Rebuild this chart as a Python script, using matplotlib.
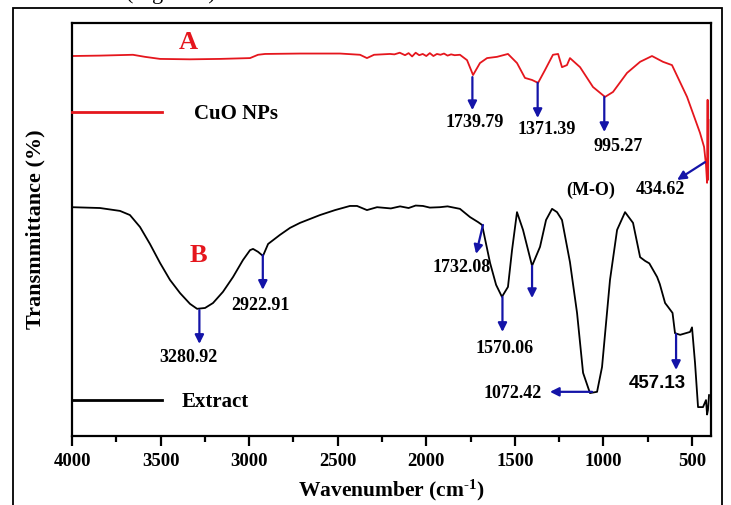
import matplotlib.pyplot as plt
from matplotlib.patches import Rectangle

plt.rcParams['mathtext.fontset'] = 'custom'
plt.rcParams['mathtext.rm'] = 'Liberation Serif:bold'
plt.rcParams['mathtext.it'] = 'Liberation Serif:bold:italic'

# FTIR spectrum of the CuO nanoparticles (curve A)
wn_cuo = [4000, 3842, 3656, 3588, 3503, 3334, 3164, 2995, 2950, 2910, 2713, 2487,
          2374, 2335, 2295, 2205, 2180, 2150, 2120, 2100, 2080, 2060, 2040, 2020,
          2000, 1980, 1960, 1940, 1920, 1900, 1880, 1860, 1840, 1810, 1770, 1736,
          1697, 1657, 1601, 1539, 1488, 1443, 1403, 1369, 1330, 1285, 1256, 1234,
          1206, 1189, 1132, 1059, 991, 946, 867, 793, 726, 664, 613, 528, 455, 432,
          421, 415, 412, 410, 407]
t_cuo = [92.0, 92.1, 92.3, 91.8, 91.3, 91.2, 91.3, 91.5, 92.3, 92.5, 92.6, 92.6,
         92.3, 91.5, 92.3, 92.5, 92.4, 92.8, 92.2, 92.7, 91.9, 92.8, 92.2, 92.5,
         92.0, 92.7, 92.0, 92.5, 92.3, 92.6, 92.1, 92.4, 92.2, 92.3, 91.0, 87.4,
         90.3, 91.5, 91.8, 92.5, 90.3, 86.7, 86.2, 85.5, 88.6, 92.3, 92.5, 89.3,
         89.8, 91.5, 89.3, 84.5, 82.1, 83.3, 87.9, 90.6, 92.0, 90.6, 89.8, 82.1,
         73.4, 70.0, 65.6, 61.3, 81.4, 62.0, 76.5]

# FTIR spectrum of the plant extract (curve B)
wn_ext = [4000, 3842, 3729, 3673, 3616, 3560, 3503, 3447, 3390, 3334, 3294, 3249,
          3204, 3148, 3091, 3035, 2995, 2978, 2950, 2922, 2893, 2826, 2769, 2713,
          2600, 2515, 2431, 2391, 2335, 2278, 2200, 2148, 2100, 2060, 2019, 1980,
          1923, 1880, 1810, 1753, 1708, 1685, 1640, 1606, 1573, 1539, 1516, 1488,
          1454, 1403, 1358, 1324, 1290, 1262, 1234, 1189, 1149, 1115, 1076, 1036,
          1008, 963, 923, 878, 833, 793, 765, 741, 697, 682, 652, 636, 610, 596,
          567, 511, 500, 483, 466, 438, 421, 415, 410, 404]
t_ext = [55.4, 55.2, 54.5, 53.5, 50.6, 46.5, 41.9, 37.8, 34.6, 32.0, 30.8, 31.0,
         32.2, 34.9, 38.5, 42.6, 45.0, 45.3, 44.6, 43.6, 46.5, 48.7, 50.4, 51.6,
         53.5, 54.7, 55.7, 55.7, 54.7, 55.4, 55.1, 55.6, 55.2, 55.8, 55.7, 55.3,
         55.4, 55.6, 55.0, 53.0, 51.8, 51.1, 41.9, 36.6, 33.7, 36.1, 45.0, 54.2,
         49.9, 41.2, 45.8, 52.3, 55.0, 54.2, 52.3, 42.1, 29.8, 15.3, 10.4, 10.7,
         16.7, 37.8, 49.9, 54.2, 51.6, 43.3, 42.4, 41.8, 38.5, 36.8, 32.2, 31.3,
         29.8, 24.9, 24.5, 25.2, 26.3, 17.7, 7.0, 7.0, 8.7, 5.2, 6.3, 9.9]

cuo_labels = ['1739.79', '1371.39', '995.27']
ext_labels = ['3280.92', '2922.91', '1732.08', '1570.06', '1072.42', '457.13']

serif = 'Liberation Serif'
red = '#e5161d'
blue = '#1414a8'

fig = plt.figure(figsize=(7.31, 5.05), dpi=100)
ax = fig.add_axes([0.0985, 0.1366, 0.8741, 0.8179])

line_cuo, = ax.plot(wn_cuo, t_cuo, color=red, lw=1.3, label='CuO NPs')
line_ext, = ax.plot(wn_ext, t_ext, color='black', lw=1.3, label='Extract')

ax.set_xlim(4000, 393)
ax.set_ylim(0, 100)
ax.set_xticks(range(4000, 499, -500))
ax.set_xticks(range(3750, 700, -500), minor=True)
ax.set_yticks([])
ax.tick_params(axis='x', which='major', direction='out', length=7, width=1.6, pad=5)
ax.tick_params(axis='x', which='minor', direction='out', length=4, width=1.6)
for lab in ax.get_xticklabels():
    lab.set_fontfamily(serif)
    lab.set_fontweight('bold')
    lab.set_fontsize(13.5)
for sp in ax.spines.values():
    sp.set_linewidth(1.6)

ax.set_xlabel(r'Wavenumber (cm$^{\text{-1}}$)', fontfamily=serif, fontweight='bold',
              fontsize=15.5, labelpad=6)
ax.set_ylabel('Transmmittance (%)', fontfamily=serif, fontweight='bold',
              fontsize=16, labelpad=19)

# curve tags
ax.text(3345, 95.2, 'A', color=red, fontfamily=serif, fontweight='bold',
        fontsize=19, ha='center', va='center')
ax.text(3289, 43.8, 'B', color=red, fontfamily=serif, fontweight='bold',
        fontsize=19, ha='center', va='center')

# legends, one per curve
lprop = dict(family=serif, weight='bold', size=15)
leg1 = ax.legend(handles=[line_cuo], loc='center left', bbox_to_anchor=(0.0, 0.78),
                 frameon=False, handlelength=4.3, handletextpad=1.55,
                 borderpad=0, borderaxespad=0, prop=lprop)
for h in leg1.get_lines():
    h.set_linewidth(2)
ax.add_artist(leg1)
leg2 = ax.legend(handles=[line_ext], loc='center left', bbox_to_anchor=(0.0, 0.082),
                 frameon=False, handlelength=4.3, handletextpad=0.95,
                 borderpad=0, borderaxespad=0, prop=lprop)
for h in leg2.get_lines():
    h.set_linewidth(2)

arrow = dict(arrowstyle='-|>', color=blue, lw=1.6, mutation_scale=13,
             shrinkA=0, shrinkB=0)
lab_kw = dict(fontfamily=serif, fontweight='bold', fontsize=13, ha='center',
              va='center')

# peak markers on curve A
ax.annotate('', xy=(1739.79, 78.9), xytext=(1739.79, 86.9), arrowprops=arrow)
ax.text(1725, 76.0, cuo_labels[0], **lab_kw)
ax.annotate('', xy=(1371.39, 77.0), xytext=(1371.39, 85.5), arrowprops=arrow)
ax.text(1318, 74.1, cuo_labels[1], **lab_kw)
ax.annotate('', xy=(995.27, 73.6), xytext=(995.27, 82.1), arrowprops=arrow)
ax.text(918, 70.2, cuo_labels[2], **lab_kw)
ax.annotate('', xy=(584, 62.0), xytext=(427, 66.3), arrowprops=arrow)
ax.text(1070, 59.6, '(M-O)', **lab_kw)
ax.text(680, 59.6, '434.62', **lab_kw)

# peak markers on curve B
ax.annotate('', xy=(3280.92, 22.3), xytext=(3280.92, 30.5), arrowprops=arrow)
ax.text(3345, 18.9, ext_labels[0], **lab_kw)
ax.annotate('', xy=(2922.91, 35.4), xytext=(2922.91, 43.8), arrowprops=arrow)
ax.text(2939, 31.7, ext_labels[1], **lab_kw)
ax.annotate('', xy=(1719, 44.1), xytext=(1680, 51.1), arrowprops=arrow)
ax.text(1798, 40.9, ext_labels[2], **lab_kw)
ax.annotate('', xy=(1403, 33.4), xytext=(1403, 41.2), arrowprops=arrow)
ax.annotate('', xy=(1570.06, 25.2), xytext=(1570.06, 33.7), arrowprops=arrow)
ax.text(1556, 21.3, ext_labels[3], **lab_kw)
ax.annotate('', xy=(1302, 10.7), xytext=(1064, 10.7), arrowprops=arrow)
ax.text(1510, 10.4, ext_labels[4], **lab_kw)
ax.annotate('', xy=(590, 16.0), xytext=(590, 24.7), arrowprops=arrow)
ax.text(697, 12.8, ext_labels[5], fontfamily='Liberation Sans', fontweight='bold',
        fontsize=13.5, ha='center', va='center')

# page frame around the figure and the caption cut off above it
fig.add_artist(Rectangle((13 / 731, -0.02), (722 - 13) / 731, 1.02 - 8 / 505,
                         transform=fig.transFigure, fill=False, lw=1.3, ec='black'))
fig.text(126 / 731, 1 + 0.5 / 505, '(Figure 4)', fontfamily=serif, fontsize=16,
         ha='left', va='baseline')

fig.savefig('out.png', dpi=100)
